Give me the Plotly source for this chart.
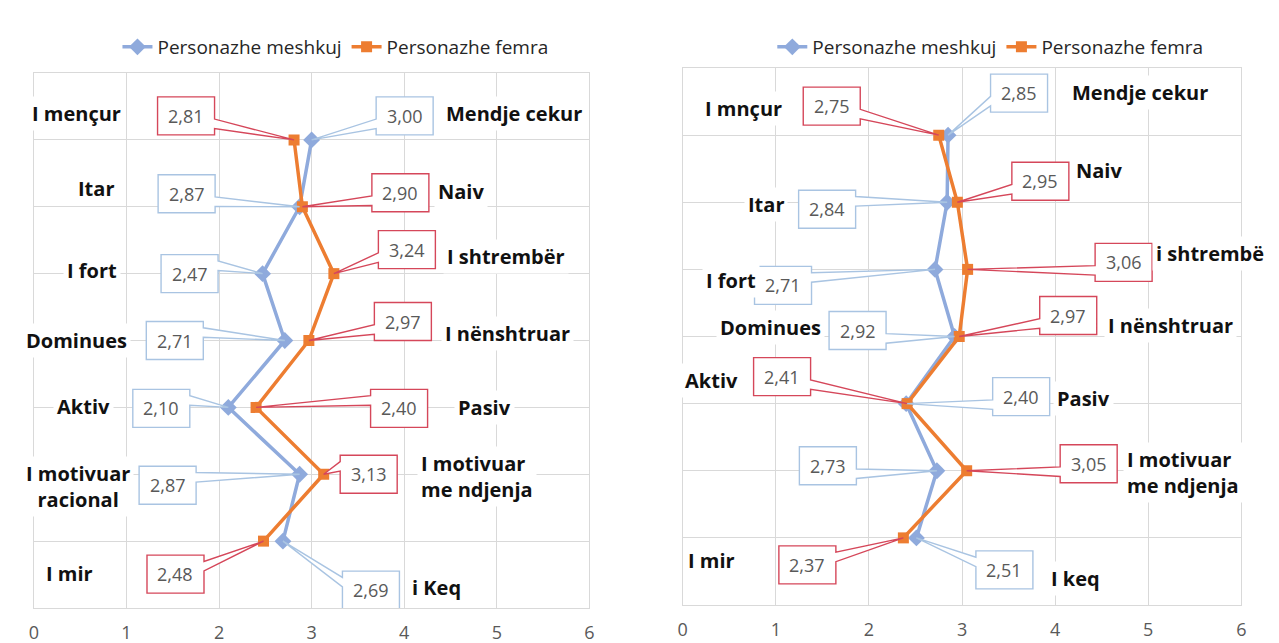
import plotly.graph_objects as go

# ---------------- data ----------------
rows = [7, 6, 5, 4, 3, 2, 1]
male_left = [3.00, 2.87, 2.47, 2.71, 2.10, 2.87, 2.69]
female_left = [2.81, 2.90, 3.24, 2.97, 2.40, 3.13, 2.48]
male_right = [2.85, 2.84, 2.71, 2.92, 2.40, 2.73, 2.51]
female_right = [2.75, 2.95, 3.06, 2.97, 2.41, 3.05, 2.37]

series_names = ["Personazhe meshkuj", "Personazhe femra"]
x_ticks = [0, 1, 2, 3, 4, 5, 6]

left_cats_l = ["I mençur", "Itar", "I fort", "Dominues", "Aktiv", "I motivuar<br>racional", "I mir"]
left_cats_r = ["Mendje cekur", "Naiv", "I shtrembër", "I nënshtruar", "Pasiv", "I motivuar<br>me ndjenja", "i Keq"]
right_cats_l = ["I mnçur", "Itar", "I fort", "Dominues", "Aktiv", "I motivoar<br>racional", "I mir"]
right_cats_r = ["Mendje cekur", "Naiv", "i shtrembë", "I nënshtruar", "Pasiv", "I motivuar<br>me ndjenja", "I keq"]

# ---------------- layout positions (not data) ----------------
# callout box centre offsets in pixels from the point (dx right, dy down)
off_male_left = [(93, -24), (-113, -13), (-73, 0), (-110, 0), (-67, 1), (-132, 11), (88, 49)]
off_female_left = [(-108, -24), (98, -14), (73, -24), (94, -19), (143, 1), (45, 0), (-88, 33)]
off_male_right = [(71, -42), (-120, 7), (-152, 16), (-97, -6), (115, -7), (-109, -5), (88, 32)]
off_female_right = [(-107, -29), (83, -21), (156, -7), (109, -21), (-125, -27), (122, -7), (-96, 27)]

# category label positions (x, y in axis units, xanchor)
pos_left_l = [(0.46, 7.39, "center"), (0.67, 6.28, "center"), (0.63, 5.04, "center"),
              (0.46, 4.00, "center"), (0.54, 3.02, "center"), (0.48, 1.81, "center"),
              (0.39, 0.52, "center")]
pos_left_r = [(5.19, 7.39, "center"), (4.61, 6.23, "center"), (5.10, 5.26, "center"),
              (5.11, 4.10, "center"), (4.87, 3.00, "center"), (4.14, 1.97, "left"),
              (4.35, 0.30, "center")]
pos_right_l = [(0.65, 7.40, "center"), (0.89, 5.96, "center"), (0.52, 4.83, "center"),
               (0.94, 4.13, "center"), (0.31, 3.35, "center"), (-0.12, 2.01, "left"),
               (0.31, 0.67, "center")]
pos_right_r = [(4.91, 7.63, "center"), (4.47, 6.47, "center"), (5.66, 5.23, "center"),
               (5.24, 4.17, "center"), (4.31, 3.07, "center"), (4.73, 1.97, "left"),
               (4.22, 0.40, "center")]

BOX_W, BOX_H = 57, 38
MALE_C = "#8FAADC"
FEMALE_C = "#ED7D31"
MALE_BOX = "#A9C4E2"
FEMALE_BOX = "#D5475A"
GRID = "#D9D9D9"
TXT = "#595959"
FONT = "Open Sans"

fig = go.Figure()


def add_series(xvals, xa, ya, legend):
    for vals, name, color, sym, size in [
        (xvals[0], series_names[0], MALE_C, "diamond", 13),
        (xvals[1], series_names[1], FEMALE_C, "square", 11),
    ]:
        fig.add_trace(go.Scatter(
            x=vals, y=rows, mode="lines+markers", name=name,
            line=dict(color=color, width=3.5),
            marker=dict(symbol=sym, size=size, color=color),
            xaxis=xa, yaxis=ya, legend=legend, hoverinfo="skip",
        ))


add_series((male_left, female_left), "x", "y", "legend")
add_series((male_right, female_right), "x2", "y2", "legend2")


def callout_path(dx, dy):
    """Excel wedgeRectCallout outline, in screen pixels relative to the tip (0,0)."""
    w, h = BOX_W, BOX_H
    l, t = dx - w / 2, dy - h / 2
    r, b = l + w, t + h
    dxPos, dyPos = -dx, -dy
    dq = dxPos * h / w
    dz = abs(dyPos) - abs(dq)
    xg1, xg2 = (7, 10) if dxPos > 0 else (2, 5)
    yg1, yg2 = (7, 10) if dyPos > 0 else (2, 5)
    x1, x2 = l + w * xg1 / 12, l + w * xg2 / 12
    y1, y2 = t + h * yg1 / 12, t + h * yg2 / 12
    tip = (0, 0)
    pts = [(l, t)]
    if dz >= 0 and dyPos < 0:
        pts += [(x1, t), tip, (x2, t)]
    pts.append((r, t))
    if dz < 0 and dxPos > 0:
        pts += [(r, y1), tip, (r, y2)]
    pts.append((r, b))
    if dz >= 0 and dyPos > 0:
        pts += [(x2, b), tip, (x1, b)]
    pts.append((l, b))
    if dz < 0 and dxPos <= 0:
        pts += [(l, y2), tip, (l, y1)]
    return "M " + " L ".join(f"{px:.1f},{-py:.1f}" for px, py in pts) + " Z"


def add_labels(vals, offs, color, xref, yref):
    for v, r, (dx, dy) in zip(vals, rows, offs):
        fig.add_shape(type="path", path=callout_path(dx, dy), xref=xref, yref=yref,
                      xsizemode="pixel", ysizemode="pixel", xanchor=v, yanchor=r,
                      line=dict(color=color, width=1.4), fillcolor="white", layer="above")
        fig.add_annotation(x=v, y=r, xref=xref, yref=yref, text=f"{v:.2f}".replace(".", ","),
                           showarrow=False, xshift=dx, yshift=-dy,
                           font=dict(family=FONT, size=18, color=TXT))


add_labels(male_left, off_male_left, MALE_BOX, "x", "y")
add_labels(female_left, off_female_left, FEMALE_BOX, "x", "y")
add_labels(male_right, off_male_right, MALE_BOX, "x2", "y2")
add_labels(female_right, off_female_right, FEMALE_BOX, "x2", "y2")


def add_cats(names, poss, xref, yref):
    for n, (x, y, anc) in zip(names, poss):
        fig.add_annotation(x=x, y=y, xref=xref, yref=yref, text=f"<b>{n}</b>",
                           showarrow=False, xanchor=anc,
                           align="left" if anc == "left" else "center",
                           bgcolor="white", borderpad=3,
                           font=dict(family=FONT, size=20, color="#111111"))


add_cats(left_cats_l, pos_left_l, "x", "y")
add_cats(left_cats_r, pos_left_r, "x", "y")
add_cats(right_cats_l, pos_right_l, "x2", "y2")
add_cats(right_cats_r, pos_right_r, "x2", "y2")

W, H = 1279, 643
xa_common = dict(range=[0, 6], tickvals=x_ticks, ticktext=[str(t) for t in x_ticks],
                 showgrid=True, gridcolor=GRID, gridwidth=1, zeroline=False,
                 showline=True, mirror=True, linecolor=GRID, linewidth=1,
                 ticks="", ticklabelstandoff=8,
                 tickfont=dict(family=FONT, size=18, color=TXT), fixedrange=True)
ya_common = dict(range=[0, 8], dtick=1, showticklabels=False, showgrid=True,
                 gridcolor=GRID, gridwidth=1, zeroline=False, showline=True, mirror=True,
                 linecolor=GRID, linewidth=1, ticks="", fixedrange=True)

leg_common = dict(orientation="h", xanchor="center", yanchor="middle",
                  font=dict(family=FONT, size=19, color="#262626"),
                  bgcolor="rgba(0,0,0,0)", itemwidth=30, tracegroupgap=0)

fig.update_layout(
    width=W, height=H, autosize=False,
    margin=dict(l=0, r=0, t=0, b=0),
    paper_bgcolor="white", plot_bgcolor="white",
    showlegend=True,
    xaxis=dict(domain=[21 / W, 581 / W], anchor="y", **xa_common),
    yaxis=dict(domain=[1 - 600 / H, 1 - 65 / H], anchor="x", **ya_common),
    xaxis2=dict(domain=[675 / W, 1238 / W], anchor="y2", **xa_common),
    yaxis2=dict(domain=[1 - 597 / H, 1 - 60 / H], anchor="x2", **ya_common),
    legend=dict(x=325 / W, y=1 - 39 / H, **leg_common),
    legend2=dict(x=985 / W, y=1 - 39 / H, **leg_common),
)

fig.write_html("out.html")
